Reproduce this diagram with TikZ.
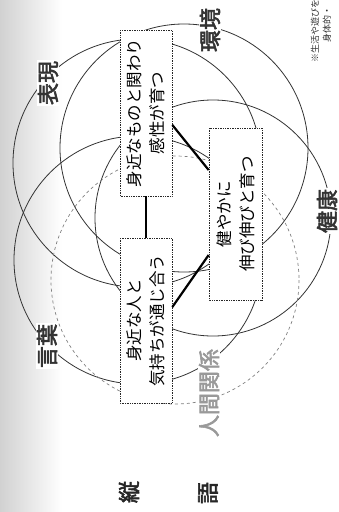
\documentclass[tikz,border=0pt]{standalone}
\usepackage{fontspec}
\newfontfamily\jp{Noto Sans CJK JP}
\newfontfamily\jpb{Noto Sans CJK JP}[FakeBold=2.5]
\usetikzlibrary{calc}
\begin{document}
\begin{tikzpicture}[x=1pt,y=-1pt,
  domcircle/.style={draw=black!80, line width=0.8pt},
  domcirclelight/.style={draw=black!50, line width=0.7pt, dashed},
  goalbox/.style={draw=black!85, densely dotted, line width=0.7pt, fill=white,
    rotate=90, minimum height=52pt, inner sep=2pt, align=center,
    font=\jp\fontsize{16.5}{23}\selectfont},
  domlabel/.style={rotate=90, fill=white, inner sep=1pt, text=black!80,
    font=\jpb\fontsize{22}{24}\selectfont},
  sidelabel/.style={rotate=90, inner sep=1pt, text=black!85,
    font=\jpb\fontsize{22}{24}\selectfont},
  notetext/.style={rotate=90, inner sep=0pt, anchor=west, text=black!80,
    font=\jp\fontsize{9}{10}\selectfont},
  linkline/.style={draw=black, line width=2.2pt}]
\useasboundingbox (0,0) rectangle (339,512);
\shade[left color=black!18, right color=white] (0,0) rectangle (62,512);

% five domain circles
\draw[domcircle] (137,163) circle (124);
\draw[domcircle] (138,260) circle (124);
\draw[domcircle] (184,148) circle (124);
\draw[domcircle] (213,218) circle (118);
\draw[domcirclelight] (175,280) circle (124);

% domain labels
\node[domlabel] (hyogen) at (48,83) {表現};
\node[domlabel] (kankyo) at (210,30) {環境};
\node[domlabel] (kenko) at (327,211) {健康};
\node[domlabel] (kotoba) at (47,346) {言葉};
\node[domlabel, text=black!40] (ningen) at (209,393) {人間関係};

% goal boxes
\node[goalbox, minimum width=166pt] (b1) at (146,113) {身近なものと関わり\\感性が育つ};
\node[goalbox, minimum width=165pt] (b2) at (146,320.5) {身近な人と\\気持ちが通じ合う};
\node[goalbox, minimum width=172pt, minimum height=53pt] (b3) at (235.5,214) {健やかに\\伸び伸びと育つ};

% connectors
\draw[linkline] (b1.west) -- (b2.east);
\draw[linkline] ($(b1.south)+(0,12)$) -- ($(b3.north)+(0,-44)$);
\draw[linkline] ($(b2.south)+(0,-13.5)$) -- ($(b3.north)+(0,41)$);

% side labels
\node[sidelabel] (s1) at (129,492) {縦};
\node[sidelabel] (s2) at (208,493) {語};

% note (cut at the top edge)
\node[notetext] (n1) at (315,63) {※生活や遊びを};
\node[notetext] (n2) at (327,43) {身体的・};
\end{tikzpicture}
\end{document}
